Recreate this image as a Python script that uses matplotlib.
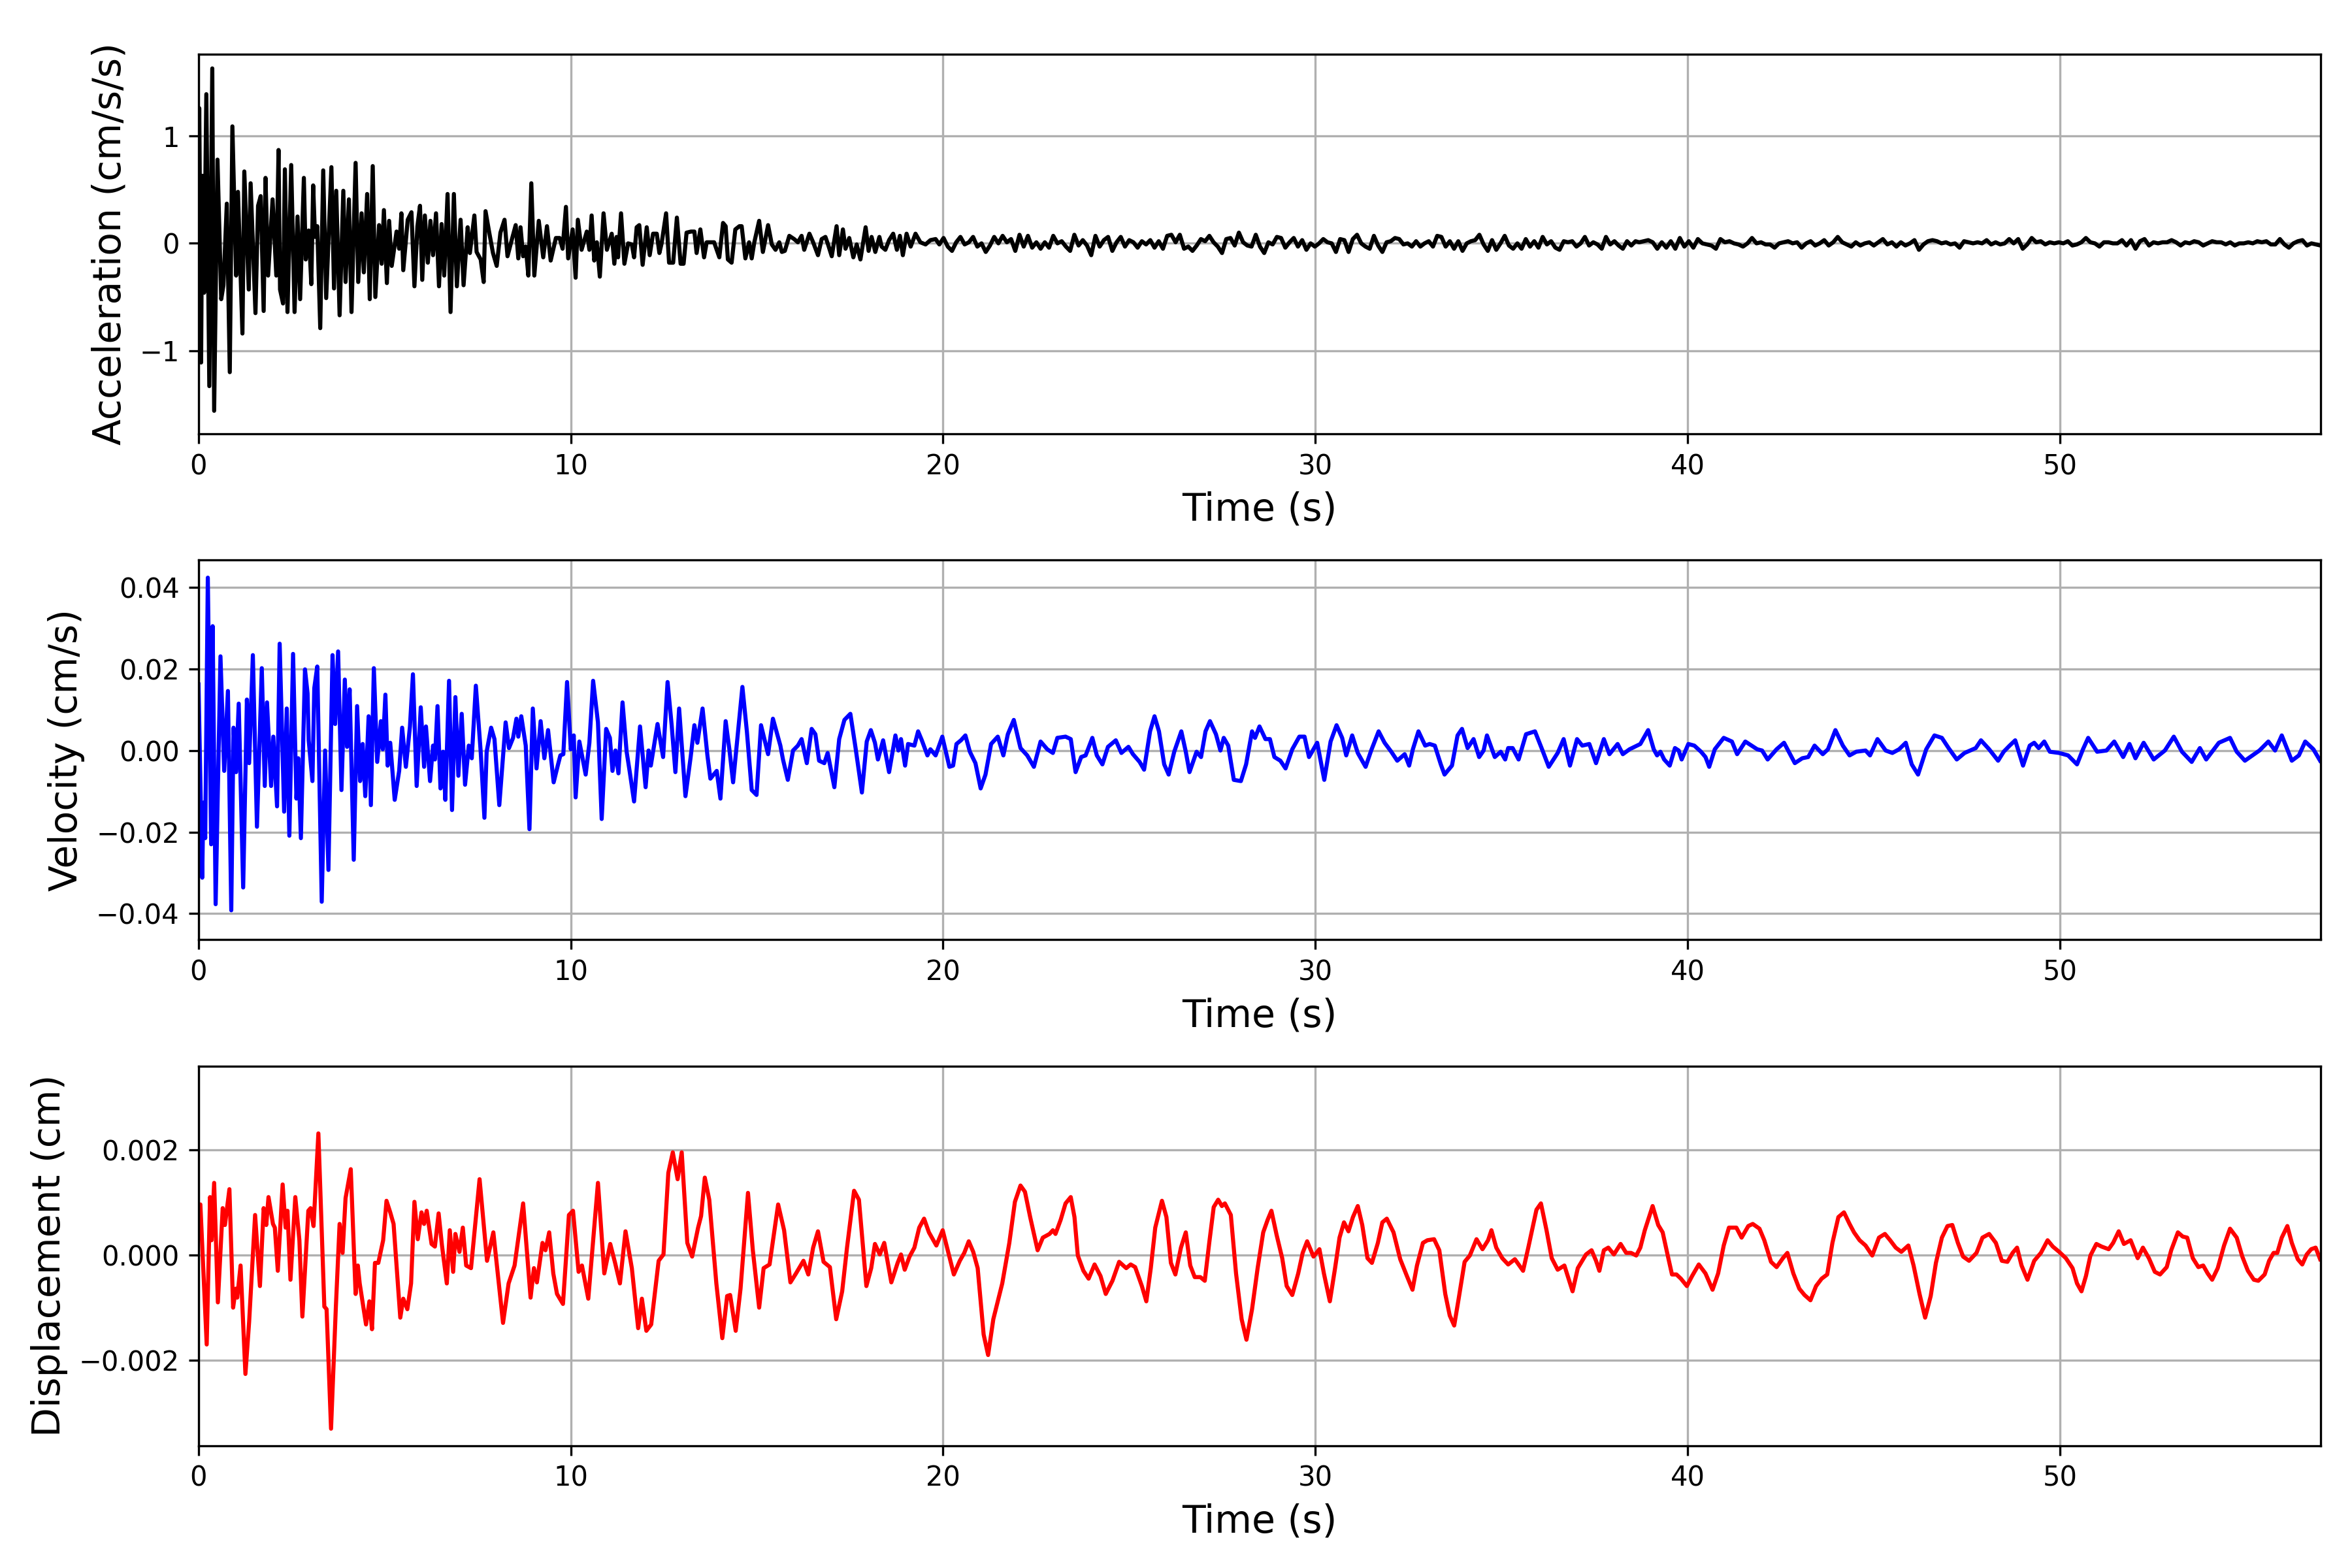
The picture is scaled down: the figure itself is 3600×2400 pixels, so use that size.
import numpy as np
import matplotlib
matplotlib.use("Agg")
import matplotlib.pyplot as plt

# ---------------- acceleration (cm/s/s) ----------------
acc_pts = [
    (0.00, 0.00), (0.02, 1.26), (0.07, -1.11), (0.10, 0.63), (0.15, -0.46), (0.21, 1.39),
    (0.29, -1.33), (0.37, 1.63), (0.42, -1.56), (0.51, 0.78), (0.61, -0.52), (0.67, -0.39),
    (0.76, 0.37), (0.84, -1.20), (0.91, 1.09), (1.01, -0.30), (1.06, 0.48), (1.18, -0.84),
    (1.23, 0.67), (1.35, -0.43), (1.40, 0.56), (1.53, -0.65), (1.60, 0.35), (1.67, 0.44),
    (1.75, -0.63), (1.80, 0.61), (1.87, -0.30), (1.99, 0.41), (2.09, -0.30), (2.15, 0.87),
    (2.19, -0.43), (2.27, -0.56), (2.32, 0.69), (2.39, -0.64), (2.49, 0.73), (2.58, -0.64),
    (2.66, 0.25), (2.73, -0.52), (2.83, 0.61), (2.88, -0.15), (2.96, 0.12), (3.03, -0.38),
    (3.08, 0.54), (3.13, 0.06), (3.19, 0.16), (3.27, -0.79), (3.35, 0.68), (3.43, -0.51),
    (3.57, 0.71), (3.64, -0.42), (3.70, 0.49), (3.79, -0.67), (3.89, 0.49), (3.95, -0.36),
    (4.04, 0.41), (4.11, -0.64), (4.22, 0.75), (4.29, -0.36), (4.38, 0.28), (4.44, -0.27),
    (4.53, 0.46), (4.60, -0.52), (4.68, 0.72), (4.75, -0.50), (4.85, 0.17), (4.92, -0.19),
    (4.98, 0.31), (5.06, -0.37), (5.12, 0.21), (5.19, -0.21), (5.32, 0.11), (5.39, -0.05),
    (5.45, 0.28), (5.50, -0.25), (5.62, 0.22), (5.72, 0.29), (5.80, -0.40), (5.88, 0.16),
    (5.95, 0.35), (6.01, -0.34), (6.08, 0.26), (6.16, -0.18), (6.23, 0.21), (6.30, -0.11),
    (6.38, 0.28), (6.46, -0.40), (6.53, 0.18), (6.60, -0.30), (6.69, 0.46), (6.77, -0.64),
    (6.86, 0.46), (6.94, -0.40), (7.04, 0.22), (7.12, -0.39), (7.23, 0.15), (7.29, -0.09),
    (7.41, 0.26), (7.47, -0.08), (7.58, -0.15), (7.66, -0.36), (7.71, 0.30), (7.81, 0.10),
    (7.91, -0.09), (8.01, -0.21), (8.11, 0.10), (8.22, 0.22), (8.30, -0.12), (8.42, 0.04),
    (8.52, 0.17), (8.59, -0.14), (8.65, 0.15), (8.72, -0.12), (8.79, -0.03), (8.86, -0.30),
    (8.94, 0.56), (9.02, -0.30), (9.14, 0.21), (9.26, -0.13), (9.36, 0.16), (9.46, -0.16),
    (9.60, 0.05), (9.70, 0.05), (9.78, -0.05), (9.87, 0.34), (9.93, -0.14), (10.05, 0.13),
    (10.13, -0.32), (10.19, 0.22), (10.29, -0.06), (10.43, 0.11), (10.50, -0.06), (10.56, 0.26),
    (10.63, -0.16), (10.70, 0.01), (10.78, -0.31), (10.88, 0.28), (10.97, -0.06), (11.10, 0.09),
    (11.17, -0.19), (11.23, 0.06), (11.27, -0.13), (11.35, 0.28), (11.44, -0.19), (11.54, 0.00),
    (11.64, -0.01), (11.70, -0.13), (11.77, 0.15), (11.84, 0.17), (11.93, -0.20), (12.04, 0.15),
    (12.12, -0.11), (12.21, 0.09), (12.31, 0.09), (12.38, -0.09), (12.44, 0.00), (12.56, 0.28),
    (12.64, -0.18), (12.75, -0.18), (12.85, 0.24), (12.95, -0.19), (13.03, -0.19), (13.11, 0.10),
    (13.23, 0.11), (13.32, 0.11), (13.38, -0.09), (13.48, 0.13), (13.58, -0.13), (13.65, 0.01),
    (13.75, 0.01), (13.85, 0.01), (13.99, -0.13), (14.09, 0.19), (14.16, 0.16), (14.22, -0.15),
    (14.32, -0.18), (14.42, 0.13), (14.53, 0.16), (14.59, 0.16), (14.69, -0.14), (14.79, 0.01),
    (14.86, -0.14), (14.93, 0.01), (15.06, 0.21), (15.16, -0.08), (15.30, 0.17), (15.40, -0.01),
    (15.50, -0.06), (15.60, 0.01), (15.67, -0.08), (15.75, -0.07), (15.87, 0.07), (16.00, 0.04),
    (16.10, 0.01), (16.20, 0.07), (16.27, -0.06), (16.41, 0.09), (16.51, 0.01), (16.64, -0.11),
    (16.74, 0.04), (16.84, 0.06), (16.91, -0.01), (17.01, -0.12), (17.14, 0.16), (17.21, -0.11),
    (17.31, 0.13), (17.38, -0.05), (17.48, 0.05), (17.59, -0.13), (17.68, -0.01), (17.78, -0.15),
    (17.92, 0.15), (18.00, -0.07), (18.08, 0.06), (18.18, -0.08), (18.29, 0.06), (18.35, -0.03),
    (18.45, -0.06), (18.55, 0.03), (18.66, 0.09), (18.76, -0.06), (18.84, 0.07), (18.92, -0.11),
    (19.02, 0.09), (19.13, -0.03), (19.26, 0.09), (19.39, 0.01), (19.53, -0.01), (19.66, 0.03),
    (19.80, 0.04),
]

# small coda, evenly sampled from about 19.9 s to 38.6 s
acc_coda1 = [
    -0.01, 0.05, -0.03, -0.07, 0.01, 0.06, -0.01, 0.01, 0.06, -0.03, 0.00, -0.08, -0.02, 0.06,
    0.00, 0.07, 0.01, 0.04, -0.07, 0.08, -0.03, 0.07, -0.04, 0.01, -0.05, 0.01, -0.04, 0.07,
    0.00, 0.02, -0.03, -0.07, 0.08, -0.02, 0.03, -0.02, -0.11, 0.07, -0.03, 0.03, 0.06, -0.07,
    0.01, 0.06, -0.03, 0.03, 0.01, -0.04, 0.02, -0.01, 0.03, -0.04, 0.02, -0.05, 0.07, 0.08,
    0.01, 0.08, -0.05, -0.03, -0.07, -0.02, 0.04, 0.02, 0.07, 0.01, -0.03, -0.09, 0.04, 0.05,
    -0.02, 0.10, 0.01, -0.02, -0.03, 0.08, -0.03, -0.09, 0.01, -0.01, 0.06, 0.05, -0.04, 0.01,
    0.05, -0.03, 0.03, -0.06, 0.00, -0.03, 0.00, 0.04, 0.01, 0.00, -0.08, 0.04, 0.03, -0.08,
    0.04, 0.08, 0.00, -0.03, -0.05, 0.07, -0.02, -0.08, 0.01, 0.02, 0.05, 0.04, -0.01, 0.00,
    -0.03, 0.02, -0.03, 0.00, 0.02, -0.03, 0.07, 0.06, -0.03, 0.02, -0.05, 0.02, -0.07, 0.00,
    0.02, 0.03, 0.08, -0.01, -0.07, 0.03, -0.06, 0.00, 0.07, -0.02, -0.05, 0.00, -0.05, 0.04,
    -0.03, 0.02, -0.04, 0.06, -0.01, 0.02, -0.04, -0.06, 0.02, 0.01, 0.02, -0.03, 0.00, 0.06,
    -0.02, 0.01, -0.01, -0.05, 0.06, -0.01, 0.02, -0.02, -0.05, 0.02, -0.02, 0.02,
]

# late coda, evenly sampled from about 38.7 s to 57 s
acc_coda2 = [
    0.01, 0.02, 0.03, 0.01, -0.05, 0.01, -0.04, 0.02, -0.05, 0.05, -0.03, 0.02, -0.04, 0.04,
    0.00, -0.01, -0.02, -0.05, 0.04, 0.01, 0.02, 0.00, -0.01, -0.03, 0.00, 0.05, 0.00, 0.01,
    -0.01, -0.01, -0.04, 0.00, 0.01, 0.02, 0.00, 0.01, -0.04, 0.00, 0.02, -0.02, 0.00, 0.03,
    -0.02, 0.01, 0.06, 0.01, -0.01, -0.03, 0.01, -0.02, 0.00, 0.01, -0.02, 0.01, 0.04, -0.01,
    0.01, -0.03, 0.01, -0.02, 0.00, 0.03, -0.06, -0.01, 0.02, 0.03, 0.02, 0.00, 0.01, -0.01,
    0.00, -0.04, 0.02, 0.01, 0.00, 0.01, 0.00, 0.03, -0.01, 0.01, -0.01, 0.00, 0.04, 0.00,
    0.04, -0.05, -0.01, 0.05, 0.01, 0.02, -0.01, 0.01, 0.00, 0.01, 0.00, 0.02, -0.02, -0.01,
    0.01, 0.05, 0.01, 0.00, -0.03, 0.01, 0.01, 0.00, 0.00, 0.03, -0.02, 0.03, -0.05, 0.02,
    0.04, -0.02, 0.01, 0.00, 0.01, 0.01, 0.03, 0.01, -0.02, 0.01, 0.00, 0.02, 0.01, -0.02,
    0.00, 0.02, 0.01, 0.01, -0.01, 0.01, -0.02, 0.00, 0.00, 0.01, 0.00, 0.02, 0.01, 0.02,
    -0.01, -0.01, 0.04, -0.01, -0.04, 0.00, 0.02, 0.03, -0.02, 0.00, -0.01, -0.02,
]

# ---------------- velocity (cm/s) ----------------
vel_pts = [
    (0.00, 0.0162), (0.10, -0.0312), (0.13, -0.0128), (0.18, -0.0215), (0.25, 0.0424),
    (0.34, -0.0230), (0.38, 0.0305), (0.46, -0.0377), (0.59, 0.0231), (0.69, -0.0050),
    (0.79, 0.0146), (0.88, -0.0392), (0.94, 0.0056), (1.01, -0.0053), (1.08, 0.0115),
    (1.20, -0.0336), (1.30, 0.0125), (1.36, -0.0031), (1.46, 0.0234), (1.57, -0.0187),
    (1.70, 0.0202), (1.78, -0.0087), (1.84, 0.0118), (1.95, -0.0087), (2.01, 0.0034),
    (2.11, -0.0137), (2.18, 0.0262), (2.30, -0.0150), (2.37, 0.0103), (2.44, -0.0209),
    (2.54, 0.0237), (2.63, -0.0118), (2.68, -0.0019), (2.75, -0.0215), (2.86, 0.0199),
    (2.93, 0.0140), (2.96, 0.0025), (3.06, -0.0075), (3.11, 0.0153), (3.19, 0.0206),
    (3.31, -0.0371), (3.40, 0.0000), (3.49, -0.0293), (3.60, 0.0234), (3.67, 0.0065),
    (3.75, 0.0243), (3.84, -0.0097), (3.93, 0.0174), (3.99, 0.0009), (4.06, 0.0150),
    (4.17, -0.0268), (4.26, 0.0109), (4.34, -0.0075), (4.41, 0.0016), (4.48, -0.0112),
    (4.57, 0.0084), (4.63, -0.0134), (4.71, 0.0202), (4.80, -0.0028), (4.90, 0.0072),
    (4.95, 0.0003), (5.02, 0.0137), (5.08, -0.0037), (5.15, 0.0019), (5.27, -0.0121),
    (5.39, -0.0050), (5.47, 0.0056), (5.57, -0.0040), (5.68, 0.0059), (5.76, 0.0187),
    (5.86, -0.0087), (5.97, 0.0106), (6.06, -0.0040), (6.11, 0.0059), (6.22, -0.0075),
    (6.30, 0.0012), (6.35, -0.0022), (6.42, 0.0109), (6.50, -0.0093), (6.57, -0.0003),
    (6.63, -0.0121), (6.73, 0.0171), (6.81, -0.0146), (6.90, 0.0131), (6.98, -0.0062),
    (7.07, 0.0090), (7.16, -0.0084), (7.26, 0.0012), (7.34, -0.0019), (7.45, 0.0159),
    (7.58, -0.0003), (7.68, -0.0165), (7.74, -0.0003), (7.86, 0.0056), (7.95, 0.0028),
    (8.08, -0.0134), (8.25, 0.0069), (8.34, 0.0006), (8.45, 0.0031), (8.54, 0.0078),
    (8.59, 0.0034), (8.67, 0.0084), (8.79, 0.0012), (8.89, -0.0193), (8.98, 0.0103),
    (9.08, -0.0044), (9.19, 0.0072), (9.29, -0.0019), (9.39, 0.0050), (9.54, -0.0078),
    (9.65, -0.0037), (9.72, -0.0012), (9.80, -0.0009), (9.90, 0.0168), (10.00, 0.0003),
    (10.08, 0.0037), (10.13, -0.0115), (10.23, 0.0022), (10.40, -0.0059), (10.50, 0.0019),
    (10.60, 0.0171), (10.73, 0.0069), (10.83, -0.0168), (10.95, 0.0053), (11.05, 0.0031),
    (11.12, -0.0050), (11.20, 0.0000), (11.28, -0.0056), (11.39, 0.0118), (11.50, -0.0003),
    (11.59, -0.0056), (11.70, -0.0125), (11.86, 0.0059), (12.01, -0.0090), (12.09, 0.0000),
    (12.15, -0.0037), (12.33, 0.0065), (12.48, -0.0016), (12.60, 0.0168), (12.71, 0.0062),
    (12.81, -0.0053), (12.91, 0.0103), (13.08, -0.0112), (13.22, -0.0016), (13.32, 0.0062),
    (13.40, 0.0019), (13.54, 0.0103), (13.67, -0.0012), (13.75, -0.0069), (13.92, -0.0050),
    (14.02, -0.0118), (14.16, 0.0072), (14.26, 0.0003), (14.36, -0.0078), (14.61, 0.0156),
    (14.73, 0.0047), (14.86, -0.0097), (14.99, -0.0109), (15.11, 0.0062), (15.30, -0.0009),
    (15.43, 0.0078), (15.63, 0.0012), (15.70, -0.0022), (15.83, -0.0072), (15.97, 0.0000),
    (16.10, 0.0012), (16.20, 0.0028), (16.34, -0.0031), (16.47, 0.0053), (16.57, 0.0040),
    (16.67, -0.0025), (16.81, -0.0031), (16.90, -0.0006), (17.08, -0.0090), (17.21, 0.0028),
    (17.35, 0.0075), (17.51, 0.0090), (17.65, 0.0006), (17.82, -0.0103), (17.95, 0.0022),
    (18.06, 0.0050), (18.17, 0.0019), (18.25, -0.0022), (18.39, 0.0025), (18.55, -0.0053),
    (18.72, 0.0037), (18.80, 0.0000), (18.87, 0.0028), (18.98, -0.0037), (19.06, 0.0016),
    (19.23, 0.0012), (19.33, 0.0047), (19.43, 0.0025), (19.58, -0.0012), (19.66, 0.0003),
    (19.80, -0.0012), (19.98, 0.0034), (20.17, -0.0040), (20.27, -0.0037), (20.36, 0.0016),
    (20.48, 0.0025), (20.60, 0.0037), (20.72, -0.0003), (20.87, -0.0031), (21.01, -0.0093),
    (21.14, -0.0059), (21.29, 0.0016), (21.47, 0.0034), (21.62, -0.0012), (21.74, 0.0040),
    (21.90, 0.0075), (22.08, 0.0006), (22.26, -0.0012), (22.44, -0.0040), (22.62, 0.0022),
    (22.80, 0.0003), (22.95, -0.0006), (23.07, 0.0031), (23.29, 0.0034), (23.43, 0.0028),
    (23.56, -0.0053), (23.71, -0.0016), (23.83, -0.0012), (24.01, 0.0031), (24.13, -0.0012),
    (24.28, -0.0034), (24.43, 0.0009), (24.64, 0.0025), (24.79, -0.0006), (24.98, 0.0009),
    (25.10, -0.0009), (25.28, -0.0028), (25.40, -0.0047), (25.56, 0.0047), (25.68, 0.0084),
    (25.80, 0.0047), (25.94, -0.0034), (26.06, -0.0059), (26.21, -0.0003), (26.40, 0.0047),
    (26.52, -0.0003), (26.62, -0.0053), (26.81, -0.0003), (26.93, -0.0016), (27.05, 0.0047),
    (27.17, 0.0072), (27.33, 0.0040), (27.45, 0.0000), (27.54, 0.0031), (27.66, 0.0012),
    (27.81, -0.0072), (28.00, -0.0075), (28.14, -0.0034), (28.30, 0.0047), (28.38, 0.0031),
    (28.50, 0.0059), (28.66, 0.0028), (28.78, 0.0028), (28.90, -0.0016), (29.06, -0.0025),
    (29.20, -0.0044), (29.38, 0.0003), (29.57, 0.0034), (29.71, 0.0034), (29.83, -0.0016),
    (30.05, 0.0019), (30.24, -0.0072), (30.41, 0.0022), (30.57, 0.0062), (30.72, 0.0031),
    (30.83, -0.0012), (30.99, 0.0037), (31.14, -0.0006), (31.35, -0.0040), (31.50, 0.0000),
    (31.70, 0.0047), (31.86, 0.0019), (32.04, -0.0003), (32.20, -0.0025), (32.40, -0.0009),
    (32.52, -0.0037), (32.62, 0.0003), (32.77, 0.0047), (32.95, 0.0012), (33.07, 0.0016),
    (33.21, 0.0012), (33.37, -0.0034), (33.47, -0.0059), (33.67, -0.0037), (33.82, 0.0037),
    (33.94, 0.0053), (34.09, 0.0006), (34.25, 0.0028), (34.40, -0.0016), (34.52, 0.0000),
    (34.61, 0.0037), (34.82, -0.0016), (34.98, -0.0003), (35.10, -0.0022), (35.18, 0.0006),
    (35.30, 0.0006), (35.46, -0.0022), (35.66, 0.0040), (35.90, 0.0047), (36.09, 0.0003),
    (36.27, -0.0040), (36.51, -0.0006), (36.67, 0.0028), (36.84, -0.0037), (37.03, 0.0028),
    (37.17, 0.0012), (37.36, 0.0016), (37.54, -0.0031), (37.75, 0.0028), (37.90, -0.0009),
    (38.12, 0.0016), (38.26, -0.0009), (38.44, 0.0003), (38.73, 0.0016), (38.94, 0.0050),
    (39.09, 0.0003), (39.18, -0.0012), (39.27, -0.0003), (39.37, -0.0022), (39.52, -0.0037),
    (39.66, 0.0006), (39.76, 0.0000), (39.84, -0.0022), (40.02, 0.0016), (40.18, 0.0012),
    (40.36, -0.0003), (40.48, -0.0016), (40.58, -0.0040), (40.73, 0.0003), (40.97, 0.0031),
    (41.19, 0.0022), (41.33, -0.0009), (41.55, 0.0022), (41.72, 0.0012), (41.87, 0.0003),
    (42.00, 0.0000), (42.15, -0.0022), (42.39, 0.0003), (42.59, 0.0019), (42.88, -0.0031),
    (43.08, -0.0019), (43.24, -0.0016), (43.41, 0.0012), (43.63, -0.0009), (43.77, 0.0003),
    (43.97, 0.0050), (44.17, 0.0012), (44.35, -0.0012), (44.53, -0.0003), (44.78, 0.0000),
    (44.90, -0.0012), (45.10, 0.0028), (45.32, 0.0000), (45.50, -0.0006), (45.68, 0.0003),
    (45.86, 0.0019), (46.02, -0.0034), (46.19, -0.0059), (46.41, 0.0003), (46.63, 0.0037),
    (46.83, 0.0031), (47.01, 0.0006), (47.23, -0.0022), (47.44, -0.0006), (47.74, 0.0006),
    (47.88, 0.0025), (48.10, 0.0003), (48.34, -0.0025), (48.49, -0.0003), (48.65, 0.0012),
    (48.80, 0.0025), (49.01, -0.0037), (49.19, 0.0012), (49.31, 0.0019), (49.43, 0.0006),
    (49.58, 0.0022), (49.73, -0.0003), (49.98, -0.0006), (50.22, -0.0012), (50.46, -0.0034),
    (50.62, 0.0003), (50.76, 0.0031), (51.00, -0.0003), (51.25, 0.0000), (51.46, 0.0022),
    (51.70, -0.0016), (51.87, 0.0016), (52.03, -0.0019), (52.25, 0.0019), (52.52, -0.0022),
    (52.82, 0.0000), (53.06, 0.0034), (53.28, -0.0003), (53.54, -0.0028), (53.76, 0.0006),
    (53.93, -0.0022), (54.27, 0.0019), (54.57, 0.0031), (54.75, -0.0003), (54.97, -0.0025),
    (55.11, -0.0016), (55.36, 0.0000), (55.60, 0.0022), (55.78, 0.0000), (55.96, 0.0037),
    (56.23, -0.0025), (56.42, -0.0012), (56.59, 0.0022), (56.81, 0.0003), (56.99, -0.0025),
]

# ---------------- displacement, in units of 1e-3 cm ----------------
disp_pts = [
    (0.00, 0.93), (0.05, 0.96), (0.22, -1.70), (0.31, 1.10), (0.35, 0.28), (0.42, 1.37),
    (0.52, -0.90), (0.65, 0.89), (0.71, 0.57), (0.83, 1.25), (0.93, -1.00), (1.00, -0.64),
    (1.04, -0.81), (1.13, -0.20), (1.26, -2.26), (1.36, -1.27), (1.52, 0.76), (1.65, -0.59),
    (1.75, 0.89), (1.82, 0.57), (1.88, 1.10), (2.00, 0.59), (2.05, 0.52), (2.13, -0.30),
    (2.26, 1.34), (2.34, 0.52), (2.39, 0.84), (2.47, -0.47), (2.60, 1.10), (2.71, 0.28),
    (2.79, -1.17), (2.95, 0.84), (3.01, 0.89), (3.09, 0.55), (3.22, 2.31), (3.38, -0.98),
    (3.44, -1.03), (3.56, -3.30), (3.69, -0.98), (3.79, 0.59), (3.87, 0.04), (3.95, 1.08),
    (4.09, 1.63), (4.22, -0.74), (4.28, -0.20), (4.33, -0.54), (4.50, -1.32), (4.59, -0.88),
    (4.66, -1.41), (4.74, -0.15), (4.83, -0.15), (4.96, 0.28), (5.05, 1.03), (5.15, 0.81),
    (5.24, 0.59), (5.42, -1.19), (5.50, -0.83), (5.61, -1.03), (5.71, -0.54), (5.80, 1.01),
    (5.89, 0.30), (5.99, 0.81), (6.06, 0.59), (6.13, 0.84), (6.26, 0.21), (6.35, 0.16),
    (6.45, 0.79), (6.54, 0.18), (6.67, -0.54), (6.75, 0.47), (6.84, -0.32), (6.90, 0.40),
    (7.01, 0.06), (7.10, 0.52), (7.19, -0.20), (7.32, -0.25), (7.55, 1.44), (7.75, -0.11),
    (7.92, 0.43), (8.18, -1.29), (8.33, -0.54), (8.49, -0.20), (8.72, 0.98), (8.92, -0.81),
    (9.01, -0.25), (9.09, -0.52), (9.24, 0.23), (9.32, 0.09), (9.42, 0.43), (9.53, -0.35),
    (9.63, -0.74), (9.79, -0.93), (9.95, 0.76), (10.06, 0.84), (10.21, -0.32), (10.30, -0.20),
    (10.47, -0.83), (10.73, 1.37), (10.90, -0.35), (11.06, 0.21), (11.19, -0.15), (11.32, -0.54),
    (11.47, 0.45), (11.64, -0.25), (11.81, -1.39), (11.91, -0.83), (12.03, -1.44), (12.16, -1.32),
    (12.36, -0.11), (12.49, 0.01), (12.62, 1.56), (12.74, 1.95), (12.87, 1.44), (12.98, 1.95),
    (13.13, 0.23), (13.26, -0.03), (13.42, 0.52), (13.50, 0.74), (13.60, 1.47), (13.72, 1.05),
    (13.91, -0.54), (14.07, -1.58), (14.20, -0.78), (14.28, -0.76), (14.43, -1.44), (14.56, -0.64),
    (14.76, 1.18), (14.89, 0.09), (15.06, -1.00), (15.18, -0.25), (15.34, -0.18), (15.57, 0.96),
    (15.73, 0.47), (15.90, -0.52), (16.05, -0.35), (16.25, -0.11), (16.38, -0.37), (16.51, 0.14),
    (16.64, 0.45), (16.79, -0.13), (16.96, -0.23), (17.13, -1.22), (17.29, -0.69), (17.42, 0.14),
    (17.61, 1.22), (17.74, 1.05), (17.94, -0.59), (18.07, -0.25), (18.17, 0.21), (18.30, 0.01),
    (18.42, 0.23), (18.61, -0.52), (18.78, -0.15), (18.87, 0.01), (18.97, -0.28), (19.10, -0.03),
    (19.23, 0.14), (19.36, 0.52), (19.49, 0.69), (19.62, 0.43), (19.82, 0.18), (19.99, 0.47),
    (20.29, -0.37), (20.45, -0.11), (20.57, 0.04), (20.69, 0.26), (20.81, 0.06), (20.93, -0.25),
    (21.09, -1.51), (21.21, -1.90), (21.35, -1.22), (21.59, -0.54), (21.78, 0.23), (21.93, 1.01),
    (22.08, 1.32), (22.20, 1.20), (22.34, 0.72), (22.54, 0.09), (22.68, 0.33), (22.86, 0.40),
    (22.95, 0.47), (23.02, 0.40), (23.16, 0.67), (23.29, 0.98), (23.43, 1.10), (23.53, 0.72),
    (23.62, -0.01), (23.77, -0.30), (23.91, -0.45), (24.07, -0.18), (24.23, -0.40), (24.37, -0.74),
    (24.55, -0.49), (24.73, -0.13), (24.92, -0.25), (25.04, -0.18), (25.16, -0.23), (25.34, -0.59),
    (25.46, -0.88), (25.58, -0.25), (25.70, 0.52), (25.88, 1.03), (26.00, 0.72), (26.12, -0.15),
    (26.24, -0.37), (26.39, 0.14), (26.52, 0.43), (26.64, -0.20), (26.76, -0.42), (26.91, -0.42),
    (27.03, -0.49), (27.15, 0.23), (27.27, 0.91), (27.39, 1.05), (27.49, 0.93), (27.57, 0.98),
    (27.73, 0.76), (27.87, -0.35), (28.02, -1.22), (28.15, -1.61), (28.30, -1.03), (28.45, -0.25),
    (28.60, 0.43), (28.72, 0.67), (28.82, 0.84), (28.96, 0.38), (29.11, -0.06), (29.23, -0.59),
    (29.38, -0.76), (29.54, -0.35), (29.66, 0.04), (29.78, 0.26), (29.95, -0.03), (30.11, 0.11),
    (30.23, -0.35), (30.39, -0.88), (30.53, -0.25), (30.65, 0.33), (30.77, 0.62), (30.89, 0.45),
    (31.01, 0.72), (31.14, 0.93), (31.26, 0.57), (31.40, -0.06), (31.52, -0.15), (31.68, 0.23),
    (31.80, 0.62), (31.92, 0.69), (32.10, 0.43), (32.28, -0.08), (32.46, -0.40), (32.61, -0.66),
    (32.73, -0.20), (32.89, 0.23), (33.01, 0.28), (33.19, 0.30), (33.33, 0.09), (33.49, -0.74),
    (33.61, -1.15), (33.73, -1.34), (33.85, -0.83), (34.01, -0.13), (34.15, -0.01), (34.33, 0.30),
    (34.49, 0.11), (34.64, 0.28), (34.73, 0.47), (34.86, 0.14), (35.02, -0.06), (35.18, -0.18),
    (35.36, -0.08), (35.58, -0.30), (35.72, 0.14), (35.94, 0.86), (36.06, 0.98), (36.21, 0.47),
    (36.35, -0.06), (36.51, -0.28), (36.69, -0.20), (36.91, -0.69), (37.05, -0.25), (37.27, 0.01),
    (37.42, 0.09), (37.54, -0.11), (37.63, -0.30), (37.75, 0.09), (37.87, 0.14), (38.02, 0.01),
    (38.20, 0.21), (38.35, 0.04), (38.48, 0.04), (38.62, -0.01), (38.73, 0.14), (38.85, 0.47),
    (39.06, 0.93), (39.21, 0.57), (39.33, 0.43), (39.46, 0.01), (39.58, -0.37), (39.70, -0.37),
    (39.82, -0.45), (39.98, -0.59), (40.12, -0.40), (40.30, -0.18), (40.48, -0.35), (40.67, -0.66),
    (40.82, -0.35), (40.97, 0.18), (41.11, 0.52), (41.31, 0.52), (41.45, 0.33), (41.63, 0.55),
    (41.75, 0.59), (41.93, 0.50), (42.06, 0.28), (42.24, -0.13), (42.39, -0.23), (42.56, -0.06),
    (42.68, 0.04), (42.84, -0.35), (43.00, -0.64), (43.14, -0.76), (43.30, -0.86), (43.45, -0.59),
    (43.60, -0.45), (43.75, -0.37), (43.89, 0.23), (44.05, 0.72), (44.20, 0.81), (44.35, 0.59),
    (44.47, 0.43), (44.62, 0.28), (44.78, 0.18), (44.96, -0.01), (45.14, 0.33), (45.30, 0.40),
    (45.44, 0.28), (45.59, 0.14), (45.74, 0.06), (45.93, 0.18), (46.07, -0.20), (46.23, -0.74),
    (46.38, -1.19), (46.53, -0.78), (46.67, -0.15), (46.83, 0.33), (46.98, 0.55), (47.11, 0.57),
    (47.26, 0.23), (47.40, -0.03), (47.56, -0.11), (47.76, 0.04), (47.92, 0.33), (48.10, 0.40),
    (48.28, 0.23), (48.44, -0.11), (48.59, -0.13), (48.73, 0.04), (48.85, 0.14), (48.97, -0.20),
    (49.13, -0.47), (49.31, -0.11), (49.49, 0.04), (49.67, 0.28), (49.81, 0.16), (49.98, 0.06),
    (50.16, -0.06), (50.34, -0.25), (50.46, -0.54), (50.58, -0.69), (50.70, -0.40), (50.82, -0.01),
    (50.98, 0.21), (51.12, 0.16), (51.31, 0.11), (51.43, 0.23), (51.58, 0.45), (51.72, 0.21),
    (51.90, 0.28), (52.09, -0.06), (52.23, 0.14), (52.39, -0.06), (52.55, -0.32), (52.69, -0.37),
    (52.87, -0.23), (52.99, 0.09), (53.17, 0.43), (53.30, 0.35), (53.42, 0.33), (53.57, -0.06),
    (53.72, -0.23), (53.85, -0.20), (53.97, -0.35), (54.09, -0.47), (54.24, -0.25), (54.41, 0.18),
    (54.57, 0.50), (54.75, 0.33), (54.90, -0.03), (55.05, -0.30), (55.21, -0.47), (55.33, -0.49),
    (55.50, -0.37), (55.62, -0.11), (55.74, 0.04), (55.84, 0.04), (55.96, 0.33), (56.11, 0.55),
    (56.23, 0.23), (56.39, -0.08), (56.51, -0.18), (56.63, 0.01), (56.75, 0.11), (56.87, 0.14),
    (56.99, -0.08),
]

x_ticks = [0, 10, 20, 30, 40, 50]
acc_ticks = [-1, 0, 1]
vel_ticks = [-0.04, -0.02, 0.00, 0.02, 0.04]
disp_ticks = [-0.002, 0.000, 0.002]


#==================================
def main():
  acc_t, acc_v = np.array(acc_pts).T
  t1 = np.linspace(19.9, 38.6, len(acc_coda1))
  t2 = np.linspace(38.7, 57.0, len(acc_coda2))
  acc_t = np.concatenate([acc_t, t1, t2])
  acc_v = np.concatenate([acc_v, acc_coda1, acc_coda2])

  vel_t, vel_v = np.array(vel_pts).T
  disp_t, disp_v = np.array(disp_pts).T
  disp_v = disp_v * 1e-3

  fig, axs = plt.subplots(3, 1, figsize=(12, 8), dpi=300)
  fig.subplots_adjust(left=0.0844, right=0.9866, bottom=0.0781, top=0.9654, hspace=0.333)

  series = [
    (acc_t, acc_v, 'k', 'Acceleration (cm/s/s)', (-1.774, 1.762), acc_ticks),
    (vel_t, vel_v, 'b', 'Velocity (cm/s)', (-0.0464, 0.0467), vel_ticks),
    (disp_t, disp_v, 'r', 'Displacement (cm)', (-0.00362, 0.00359), disp_ticks),
  ]
  for ax, (t, v, c, lab, lim, yt) in zip(axs, series):
    ax.plot(t, v, color=c, lw=1.5)
    ax.set_xlim(0, 57)
    ax.set_ylim(*lim)
    ax.set_xticks(x_ticks)
    ax.set_yticks(yt)
    ax.grid(True)
    ax.set_xlabel('Time (s)', fontsize=14)
    ax.set_ylabel(lab, fontsize=14)

  plt.savefig('out.png')
  return

if __name__ == '__main__':
  main()
